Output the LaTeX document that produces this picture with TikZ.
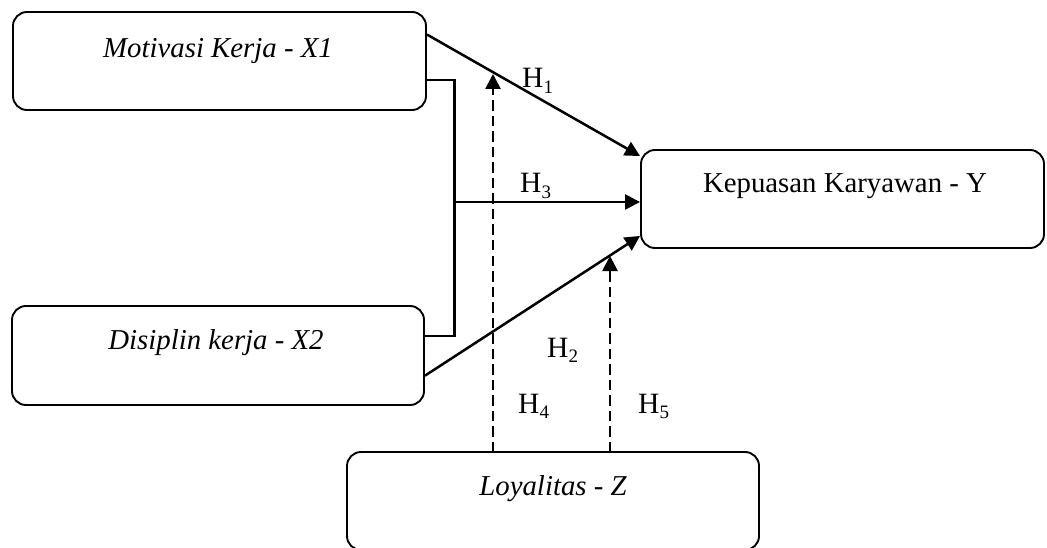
\documentclass[tikz,border=0pt]{standalone}
\usepackage{fontspec}
\setmainfont{Liberation Serif}
\usetikzlibrary{arrows.meta,calc}
\newcommand{\hsub}[1]{H\raisebox{-0.18em}{\fontsize{19}{22}\selectfont #1}}
\begin{document}
\begin{tikzpicture}[x=1pt,y=-1pt,
  box/.style={draw, line width=1.9pt, rounded corners=14pt, inner sep=0pt},
  txt/.style={font=\fontsize{28.8}{34}\selectfont, inner sep=0pt, anchor=base},
  hl/.style={font=\fontsize{29.5}{34}\selectfont, inner sep=0pt, anchor=base west},
  conn/.style={line width=2.5pt, -{Triangle[length=15pt,width=15pt]}},
  plain/.style={line width=2.3pt},
  dashconn/.style={line width=2.7pt, dash pattern=on 10.5pt off 5pt, -{Triangle[length=15pt,width=15pt]}}
]
\useasboundingbox (0,0) rectangle (1047,548);
% boxes
\node[box, minimum width=413pt, minimum height=98pt] (x1) at (219.5,61) {};
\node[box, minimum width=412pt, minimum height=99pt] (x2) at (218,355.5) {};
\node[box, minimum width=403pt, minimum height=98pt] (y) at (842.5,199) {};
\node[box, minimum width=412pt, minimum height=98pt] (z) at (553,501) {};
% texts
\node[txt] (x1t) at (218,58) {\itshape Motivasi Kerja - X1};
\node[txt] (x2t) at (216,349) {\itshape Disiplin kerja - X2};
\node[txt] (yt) at (845,193) {Kepuasan Karyawan - Y};
\node[txt] (zt) at (553,495) {\itshape Loyalitas - Z};
% anchor coordinates
\coordinate (a1) at ($(x1.north east)!0.235!(x1.south east)$);
\coordinate (b1) at ($(x1.north east)!0.69!(x1.south east)$);
\coordinate (b2) at ($(x2.north east)!0.31!(x2.south east)$);
\coordinate (a2) at ($(x2.north east)!0.70!(x2.south east)$);
\coordinate (e1) at ($(y.north west)!0.07!(y.south west)$);
\coordinate (e3) at ($(y.north west)!0.53!(y.south west)$);
\coordinate (e2) at ($(y.north west)!0.87!(y.south west)$);
\coordinate (bx) at (454.5,202);
\coordinate (d4s) at (493,452);
\coordinate (d4e) at (493,74);
\coordinate (d5s) at (610,452);
\coordinate (d5e) at (610,256);
% connectors
\draw[conn] (a1) -- (e1);
\draw[conn] (a2) -- (e2);
\draw[plain] (b1) -| (bx) |- (b2);
\draw[conn] (bx) -- (bx -| e3);
\draw[dashconn] (d4s) -- (d4e);
\draw[dashconn] (d5s) -- (d5e);
% labels
\node[hl] (h1) at (522,88) {\hsub{1}};
\node[hl] (h3) at (520,193) {\hsub{3}};
\node[hl] (h2) at (547,357) {\hsub{2}};
\node[hl] (h4) at (518,413) {\hsub{4}};
\node[hl] (h5) at (638,413) {\hsub{5}};
\end{tikzpicture}
\end{document}
